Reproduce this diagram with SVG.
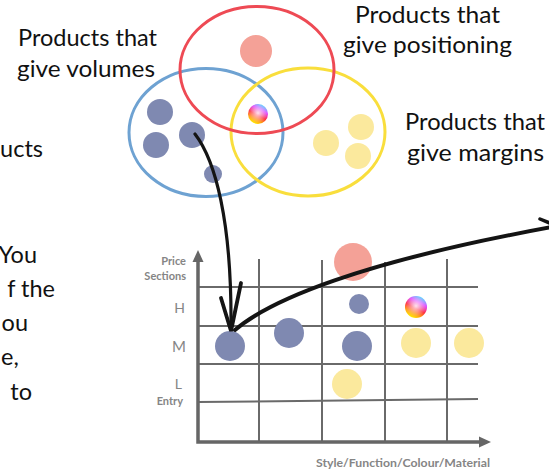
<svg xmlns="http://www.w3.org/2000/svg" width="549" height="471" viewBox="0 0 549 471">
<defs>
<linearGradient id="rb" x1="0.85" y1="0.05" x2="0.35" y2="1">
<stop offset="0" stop-color="#30f0ff"/>
<stop offset="0.3" stop-color="#e040ff"/>
<stop offset="0.58" stop-color="#ff2a3a"/>
<stop offset="0.8" stop-color="#ff9a10"/>
<stop offset="1" stop-color="#ffef00"/>
</linearGradient>
<radialGradient id="hl" cx="0.5" cy="0.45" r="0.5">
<stop offset="0" stop-color="#fff" stop-opacity="0.85"/>
<stop offset="1" stop-color="#fff" stop-opacity="0"/>
</radialGradient>
<style>
.lbl{font-family:Lato,"Liberation Sans",sans-serif;font-size:23.5px;fill:#111}
.ring{fill:none;stroke-width:3}
.blue{fill:#7f89b1}
.yel{fill:#fbe99d}
.pink{fill:#f4a197}
.grid{stroke:#6a6a6a;stroke-width:2;fill:none}
.axis{stroke:#666;stroke-width:3.5;fill:none}
.ax{font-family:Lato,"Liberation Sans",sans-serif;fill:#858585;text-anchor:end}
.axb{font-weight:bold;font-size:11px}
.axl{font-size:15px}
.conn{fill:none;stroke:#141414;stroke-linecap:round}
</style>
</defs>
<rect width="549" height="471" fill="#fff"/>

<g id="left-text" class="lbl">
<text x="43" y="157" text-anchor="end">ucts</text>
<text x="37" y="263" text-anchor="end">You</text>
<text x="55" y="297" text-anchor="end">f the</text>
<text x="28" y="331" text-anchor="end">ou</text>
<text x="1" y="365">e,</text>
<text x="32" y="400" text-anchor="end">to</text>
</g>

<g id="label-volumes" class="lbl">
<text x="18" y="46" textLength="139" lengthAdjust="spacingAndGlyphs">Products that</text>
<text x="17" y="77" textLength="138" lengthAdjust="spacingAndGlyphs">give volumes</text>
</g>
<g id="label-positioning" class="lbl">
<text x="355" y="23" textLength="145" lengthAdjust="spacingAndGlyphs">Products that</text>
<text x="343" y="53" textLength="169" lengthAdjust="spacingAndGlyphs">give positioning</text>
</g>
<g id="label-margins" class="lbl">
<text x="405" y="130" textLength="140" lengthAdjust="spacingAndGlyphs">Products that</text>
<text x="407" y="161" textLength="137" lengthAdjust="spacingAndGlyphs">give margins</text>
</g>

<g id="set-volumes">
<ellipse class="ring" cx="206" cy="132.5" rx="77" ry="64" stroke="#6ea2d2"/>
<circle class="blue" cx="160" cy="112" r="13"/>
<circle class="blue" cx="156" cy="145" r="13"/>
<circle class="blue" cx="192" cy="135" r="13"/>
<circle class="blue" cx="213" cy="174" r="9"/>
</g>
<g id="set-margins">
<ellipse class="ring" cx="308" cy="132" rx="77" ry="64" stroke="#f9de3c"/>
<circle class="yel" cx="361" cy="127" r="13"/>
<circle class="yel" cx="326" cy="143" r="13"/>
<circle class="yel" cx="358" cy="156" r="13"/>
</g>
<g id="set-positioning">
<ellipse class="ring" cx="257" cy="70" rx="77" ry="63.5" stroke="#ee4a54"/>
<circle class="pink" cx="256" cy="51" r="16"/>
</g>
<g id="venn-centre">
<circle cx="258" cy="114" r="10" fill="url(#rb)"/>
<circle cx="258" cy="114" r="10" fill="url(#hl)"/>
</g>

<g id="chart">
<g class="grid">
<line x1="198" y1="287" x2="478" y2="287"/>
<line x1="198" y1="326" x2="478" y2="326"/>
<line x1="198" y1="364" x2="478" y2="364"/>
<line x1="198" y1="402" x2="478" y2="399"/>
<line x1="259" y1="259" x2="259" y2="442"/>
<line x1="322" y1="260" x2="322" y2="442"/>
<line x1="385" y1="262" x2="385" y2="442"/>
<line x1="447" y1="259" x2="447" y2="442"/>
</g>
<path class="axis" d="M198,260 V442 H481"/>
<polygon points="198,250 192.5,262 203.5,262" fill="#666"/>
<polygon points="491,442 479,436.5 479,447.5" fill="#666"/>
<text class="ax axb" x="186" y="265">Price</text>
<text class="ax axb" x="186" y="280">Sections</text>
<text class="ax axl" x="185" y="313" style="font-size:14px">H</text>
<text class="ax axl" x="186" y="352">M</text>
<text class="ax axl" x="182" y="389" style="font-size:14px">L</text>
<text class="ax axb" x="183" y="405">Entry</text>
<text class="ax axb" x="316" y="467" style="text-anchor:start" textLength="174" lengthAdjust="spacingAndGlyphs">Style/Function/Colour/Material</text>
<circle class="pink" cx="353" cy="262" r="19"/>
<circle class="blue" cx="359" cy="304" r="10"/>
<circle cx="416" cy="307" r="11" fill="url(#rb)"/>
<circle cx="416" cy="307" r="11" fill="url(#hl)"/>
<circle class="blue" cx="230" cy="346" r="15"/>
<circle class="blue" cx="289" cy="333" r="15"/>
<circle class="blue" cx="357" cy="346" r="15"/>
<circle class="yel" cx="416" cy="343" r="15"/>
<circle class="yel" cx="469" cy="343" r="15"/>
<circle class="yel" cx="347" cy="384" r="15"/>
</g>

<g id="connectors">
<path class="conn" stroke-width="3.2" d="M195,134 C215,160 232,220 231,329"/>
<path class="conn" stroke-width="3.8" d="M221,298 L231,331 L241,283"/>
<path class="conn" stroke-width="4" d="M235,330 C270,300 360,262 552,227"/>
<path class="conn" stroke-width="3.5" d="M540,219 L552,224"/>
</g>
</svg>
